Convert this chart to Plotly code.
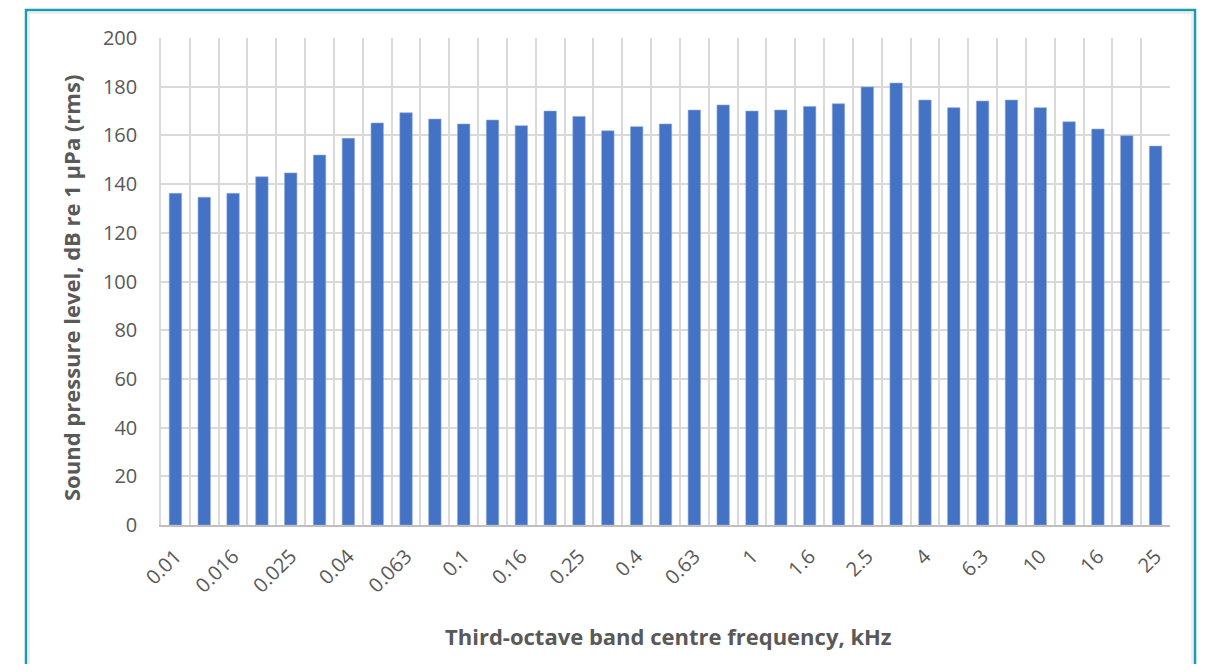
import plotly.graph_objects as go

bands = ["0.01", "0.0125", "0.016", "0.02", "0.025", "0.0315", "0.04", "0.05",
         "0.063", "0.08", "0.1", "0.125", "0.16", "0.2", "0.25", "0.315", "0.4",
         "0.5", "0.63", "0.8", "1", "1.25", "1.6", "2", "2.5", "3.15", "4", "5",
         "6.3", "8", "10", "12.5", "16", "20", "25"]
spl = [136.2, 134.6, 136.2, 143.0, 144.6, 151.9, 158.8, 165.1, 169.3, 166.7,
       164.7, 166.3, 164.0, 170.0, 167.8, 161.9, 163.6, 164.7, 170.4, 172.5,
       170.0, 170.4, 171.9, 173.0, 179.9, 181.5, 174.5, 171.4, 174.1, 174.5,
       171.4, 165.6, 162.6, 159.9, 155.6]
y_ticks = list(range(0, 201, 20))

x_title = "Third-octave band centre frequency, kHz"
y_title = "Sound pressure level, dB re 1 \u00b5Pa (rms)"

idx = list(range(len(bands)))
shown = idx[::2]

FONT = "Open Sans"
GREY = "#595959"

fig = go.Figure()
fig.add_trace(go.Bar(
    x=idx, y=spl, width=0.43,
    marker=dict(color="#4472C4", line=dict(color="#8faadc", width=0.6)),
    hovertext=bands, showlegend=False,
))

# page body adds an 8 px margin all round; work in screen coordinates
OFF = 8
SW, SH = 1205, 672
W, H = SW - 2 * OFF, SH - 2 * OFF
PL, PR, PT, PB = 161, 1170, 38, 525  # plot area in screen coords
L, R, T, B = PL - OFF, W - (PR - OFF), PT - OFF, H - (PB - OFF)
pw, ph = W - L - R, H - T - B

def px(x):
    return (x - PL) / pw

def py(y):
    return (PB - y) / ph

fig.update_layout(
    width=W, height=H,
    margin=dict(l=L, r=R, t=T, b=B, autoexpand=False),
    paper_bgcolor="white", plot_bgcolor="white",
    font=dict(family=FONT, color=GREY),
    xaxis=dict(
        range=[-0.5, len(bands) - 0.5],
        tickmode="array", tickvals=shown, ticktext=[bands[i] for i in shown],
        tickangle=-45, tickfont=dict(size=20, color=GREY),
        showgrid=False, zeroline=False, ticks="",
        showline=True, linecolor="#bfbfbf", linewidth=1.5,
        ticklabelstandoff=10,
        minor=dict(tick0=-0.5, dtick=1, showgrid=True,
                   gridcolor="#d9d9d9", gridwidth=1.5),
        fixedrange=True,
    ),
    yaxis=dict(
        range=[0, 200], tickmode="array", tickvals=y_ticks,
        tickfont=dict(size=20, color=GREY),
        showgrid=True, gridcolor="#d9d9d9", gridwidth=1.5,
        zeroline=False, ticks="", showline=True, linecolor="#d9d9d9",
        linewidth=1.5, ticklabelstandoff=18, fixedrange=True,
    ),
    annotations=[
        dict(text="<b>" + x_title + "</b>", xref="paper", yref="paper",
             x=px(668), y=py(636), xanchor="center", yanchor="middle",
             showarrow=False, font=dict(size=22, color=GREY, family=FONT)),
        dict(text="<b>" + y_title + "</b>", xref="paper", yref="paper",
             x=px(71), y=py(288), xanchor="center", yanchor="middle",
             textangle=-90, showarrow=False,
             font=dict(size=22, color=GREY, family=FONT)),
    ],
    shapes=[
        dict(type="rect", xref="paper", yref="paper", layer="below",
             x0=px(26), x1=px(1195), y0=py(700), y1=py(10),
             line=dict(color="#1a9bb0", width=2.5), fillcolor="rgba(0,0,0,0)"),
        dict(type="rect", xref="paper", yref="paper", layer="below",
             x0=px(29), x1=px(1192), y0=py(700), y1=py(13),
             line=dict(color="#dcdcdc", width=1), fillcolor="rgba(0,0,0,0)"),
    ],
)

fig.write_html("out.html")
